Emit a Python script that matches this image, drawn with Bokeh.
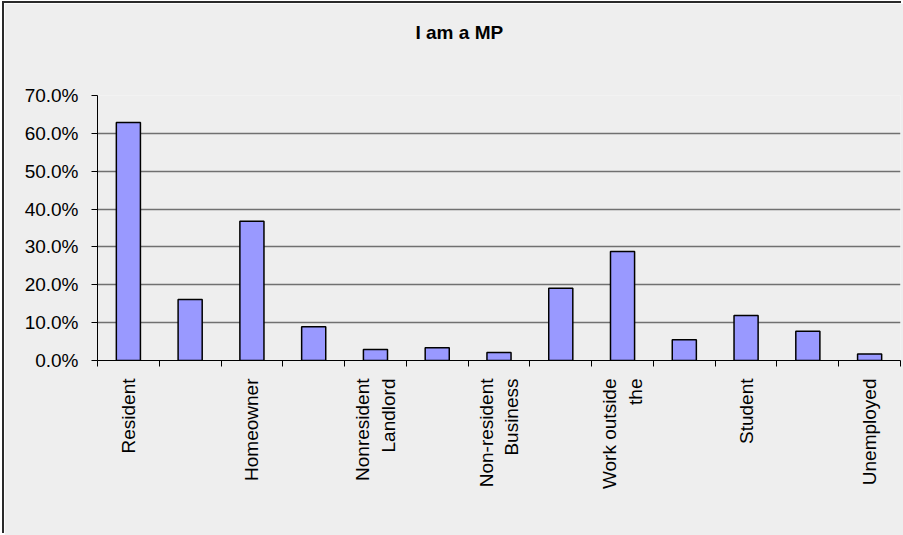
import math
from bokeh.plotting import figure
from bokeh.models import FixedTicker, ColumnDataSource, Range1d, NumeralTickFormatter, Title
from bokeh.embed import file_html
from bokeh.resources import INLINE

# ---- data ----
categories = ["Resident", "", "Homeowner", "", "Nonresident\nLandlord", "",
              "Non-resident\nBusiness", "", "Work outside\nthe", "", "Student", "", "Unemployed"]
values = [0.629, 0.161, 0.368, 0.089, 0.029, 0.034, 0.021, 0.191, 0.288, 0.055, 0.119, 0.077, 0.017]
y_ticks = [0.0, 0.1, 0.2, 0.3, 0.4, 0.5, 0.6, 0.7]
title_text = "I am a MP"

positions = list(range(1, len(categories) + 1))
source = ColumnDataSource(dict(x=positions, top=values))

FONT = "Liberation Sans"
BG = "#eeeeee"

p = figure(width=899, height=532, output_backend="svg", toolbar_location=None,
           x_range=Range1d(0.5, len(categories) + 0.5), y_range=Range1d(0, 0.7),
           min_border_left=93, min_border_right=3, min_border_top=92, min_border_bottom=175,
           background_fill_color=BG, border_fill_color=BG, outline_line_color=None,
           title=title_text)
p.styles = {"margin-left": "4px", "margin-top": "3px",
            "box-shadow": "-2px -2px 0px 0px #2a2a2a"}

p.title.text_font = FONT
p.title.text_font_style = "bold"
p.title.text_font_size = "19px"
p.title.text_color = "#000000"
p.title.align = "left"
p.title.offset = 318
p.title.standoff = 0

# blank gap between the title and the plot area
p.add_layout(Title(text=" ", text_font_size="10px", standoff=40), "above")

p.vbar(x="x", top="top", width=0.39, source=source,
       fill_color="#9999ff", line_color="#000000", line_width=1.5)

# y axis
p.yaxis.ticker = FixedTicker(ticks=y_ticks)
p.yaxis.formatter = NumeralTickFormatter(format="0.0%")
p.yaxis.major_label_text_font = FONT
p.yaxis.major_label_text_font_size = "19px"
p.yaxis.major_label_text_color = "#000000"
p.yaxis.major_tick_out = 6
p.yaxis.major_tick_in = 0
p.yaxis.minor_tick_line_color = None
p.yaxis.axis_line_color = "#000000"
p.yaxis.major_tick_line_color = "#000000"
p.yaxis.major_label_standoff = 13

# x axis
labelled = [pos for pos, c in zip(positions, categories) if c]
bounds = [i + 0.5 for i in range(0, len(categories) + 1)]
p.xaxis.ticker = FixedTicker(ticks=labelled, minor_ticks=bounds)
p.xaxis.major_label_overrides = {pos: c for pos, c in zip(positions, categories) if c}
p.xaxis.major_label_orientation = math.pi / 2
p.xaxis.major_label_text_font = FONT
p.xaxis.major_label_text_font_size = "19px"
p.xaxis.major_label_text_color = "#000000"
p.xaxis.major_tick_out = 0
p.xaxis.major_tick_in = 0
p.xaxis.minor_tick_out = 6
p.xaxis.minor_tick_in = 0
p.xaxis.minor_tick_line_color = "#000000"
p.xaxis.axis_line_color = "#000000"
p.xaxis.major_label_standoff = 12

p.xgrid.grid_line_color = None
p.ygrid.grid_line_color = "#707070"
p.ygrid.grid_line_width = 1.5

open("out.html", "w").write(file_html(p, INLINE))
